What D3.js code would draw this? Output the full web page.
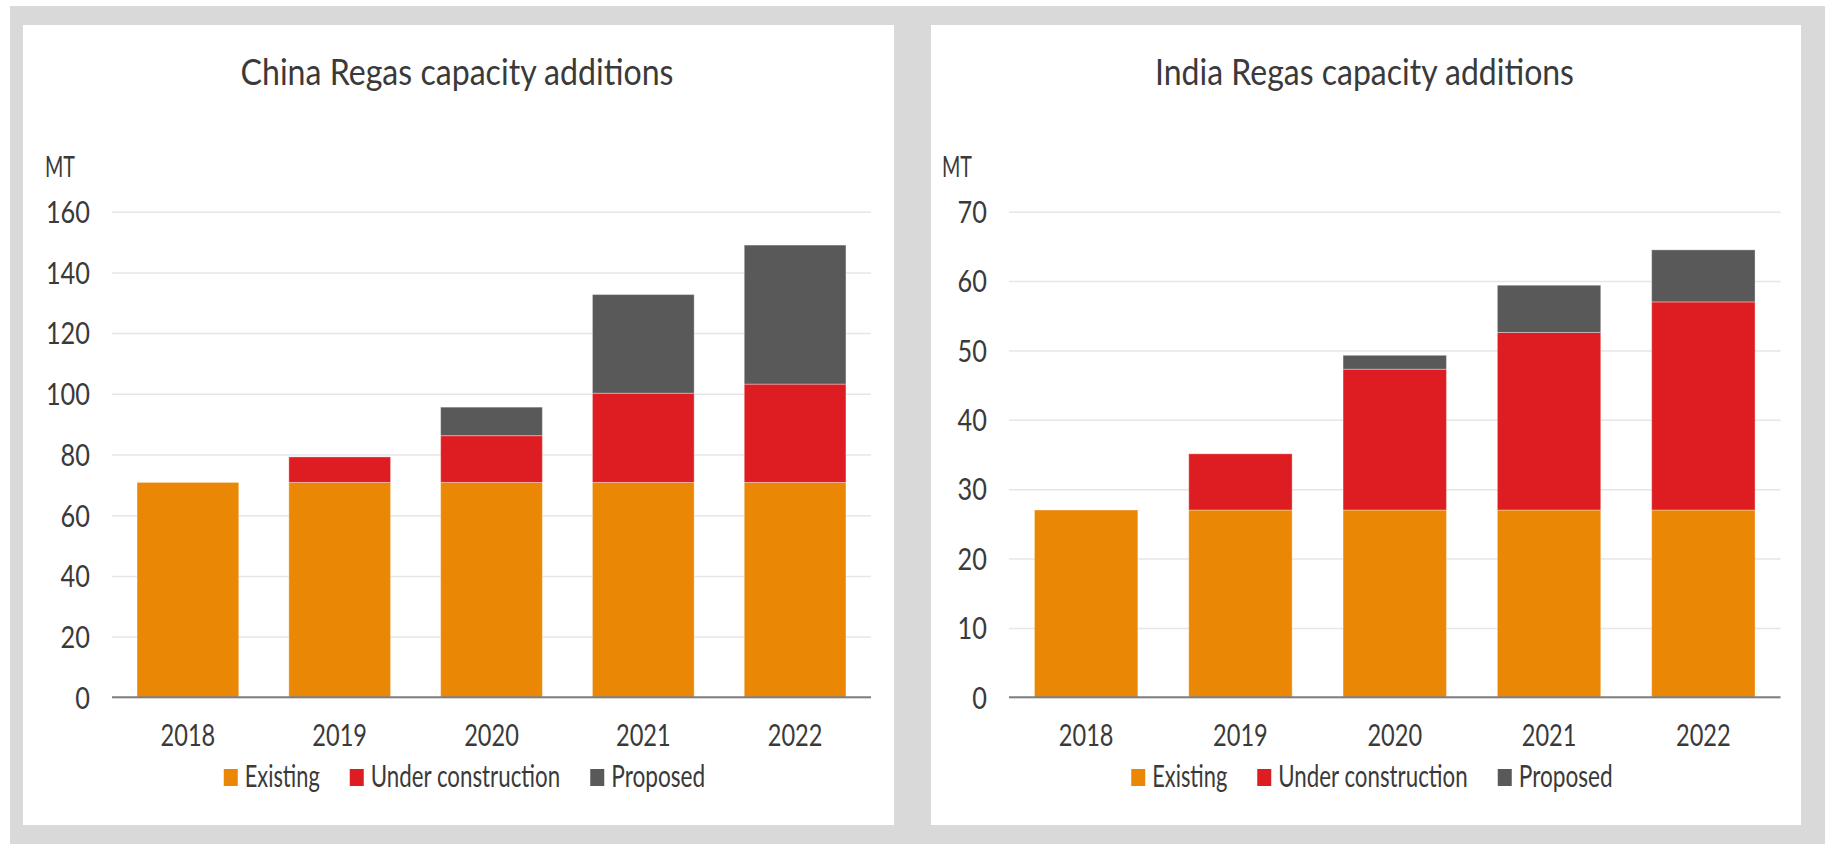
<!DOCTYPE html>
<html>
<head>
<meta charset="utf-8">
<script src="https://cdn.jsdelivr.net/npm/d3@7"></script>
<style>
  html, body { margin: 0; padding: 0; background: #ffffff; }
  svg { display: block; }
  text { font-family: Lato, "Open Sans", sans-serif; fill: #3a3a3a; }
</style>
</head>
<body>
<svg id="chart" width="1825" height="844"></svg>
<script>
// ---- data ----
const years = ["2018", "2019", "2020", "2021", "2022"];
const seriesNames = ["Existing", "Under construction", "Proposed"];

const chinaExisting = [70.8, 70.8, 70.8, 70.8, 70.8];
const chinaUnder    = [0, 8.4, 15.4, 29.4, 32.4];
const chinaProposed = [0, 0, 9.4, 32.5, 45.8];
const chinaTicks    = [0, 20, 40, 60, 80, 100, 120, 140, 160];

const indiaExisting = [27, 27, 27, 27, 27];
const indiaUnder    = [0, 8.1, 20.3, 25.6, 30.0];
const indiaProposed = [0, 0, 2.0, 6.8, 7.5];
const indiaTicks    = [0, 10, 20, 30, 40, 50, 60, 70];

const colors = ["#EA8705", "#DD1D21", "#595959"];

// Squeeze a text horizontally so it spans the given width, anchored at (x, y).
function fit(textSel, x, y, width) {
  textSel.each(function () {
    const node = this;
    node.setAttribute("x", 0);
    node.setAttribute("y", 0);
    const len = node.getComputedTextLength() || width;
    const s = width / len;
    node.setAttribute("transform", `translate(${x},${y}) scale(${s},1)`);
  });
}

// ---- layout ----
const svg = d3.select("#chart");
svg.append("rect").attr("x", 10).attr("y", 6).attr("width", 1815).attr("height", 838).attr("fill", "#D9D9D9");

const panels = [
  { title: "China Regas capacity additions", titleW: 433,
    existing: chinaExisting, under: chinaUnder, proposed: chinaProposed,
    ticks: chinaTicks, max: 160,
    px: 23, pw: 871, plotX0: 112, plotX1: 871 },
  { title: "India Regas capacity additions", titleW: 419,
    existing: indiaExisting, under: indiaUnder, proposed: indiaProposed,
    ticks: indiaTicks, max: 70,
    px: 931, pw: 870, plotX0: 1009, plotX1: 1780.5 }
];

const panelY = 25, panelH = 800;
const plotTop = 211.7, plotBottom = 697.3;
const legendWidths = [75, 189.5, 94];

panels.forEach(p => {
  const g = svg.append("g");
  g.append("rect").attr("x", p.px).attr("y", panelY).attr("width", p.pw).attr("height", panelH).attr("fill", "#ffffff");

  const cx = p.px + p.pw / 2;

  // title
  g.append("text")
    .attr("text-anchor", "middle")
    .attr("font-size", 37)
    .text(p.title)
    .call(fit, cx - 1.5, 85, p.titleW);

  const x = d3.scaleBand().domain(years).range([p.plotX0, p.plotX1])
    .paddingInner(0.33).paddingOuter(0.165);
  const y = d3.scaleLinear().domain([0, p.max]).range([plotBottom, plotTop]);

  // unit label
  g.append("text")
    .attr("font-size", 28)
    .text("MT")
    .call(fit, p.plotX0 - 67, 177, 30);

  // y axis with gridlines
  const width = p.plotX1 - p.plotX0;
  const yAxis = g.append("g")
    .attr("transform", `translate(${p.plotX0},0)`)
    .call(d3.axisLeft(y).tickValues(p.ticks).tickSizeInner(-width).tickSizeOuter(0).tickPadding(22));
  yAxis.select(".domain").remove();
  yAxis.selectAll(".tick line").attr("stroke", "#E6E6E6").attr("stroke-width", 1.5);
  yAxis.selectAll(".tick text")
    .attr("font-family", "Lato, sans-serif")
    .attr("font-size", 30)
    .attr("fill", "#3a3a3a")
    .attr("dy", "0.36em")
    .each(function (d) {
      fit(d3.select(this), -22, 0, String(d).length * 14.7);
    });

  // stacked bars
  const rows = years.map((yr, i) => ({
    year: yr,
    "Existing": p.existing[i],
    "Under construction": p.under[i],
    "Proposed": p.proposed[i]
  }));
  const stacked = d3.stack().keys(seriesNames)(rows);

  g.append("g").selectAll("g")
    .data(stacked)
    .join("g")
    .attr("fill", (d, i) => colors[i])
    .selectAll("rect")
    .data(d => d.filter(s => s[1] - s[0] > 0))
    .join("rect")
    .attr("x", d => x(d.data.year))
    .attr("y", d => y(d[1]))
    .attr("width", x.bandwidth())
    .attr("height", d => y(d[0]) - y(d[1]))
    .attr("stroke", "rgba(255,255,255,0.35)")
    .attr("stroke-width", 1);

  // baseline
  g.append("line")
    .attr("x1", p.plotX0).attr("x2", p.plotX1)
    .attr("y1", y(0)).attr("y2", y(0))
    .attr("stroke", "#7F7F7F").attr("stroke-width", 2);

  // x axis labels
  const xAxis = g.append("g")
    .attr("transform", `translate(0,${plotBottom})`)
    .call(d3.axisBottom(x).tickSize(0));
  xAxis.select(".domain").remove();
  xAxis.selectAll(".tick text")
    .attr("font-family", "Lato, sans-serif")
    .attr("font-size", 31)
    .attr("fill", "#3a3a3a")
    .attr("dy", 0)
    .each(function () {
      fit(d3.select(this), 0, 48.7, 54.7);
    });

  // legend
  const sw = 14, gapText = 7, gapItem = 30;
  const total = legendWidths.reduce((a, w) => a + sw + gapText + w, 0) + gapItem * (legendWidths.length - 1);
  let lx = cx + 6 - total / 2;
  const legend = g.append("g");
  seriesNames.forEach((name, i) => {
    legend.append("rect")
      .attr("x", lx).attr("y", 769).attr("width", sw).attr("height", 17)
      .attr("fill", colors[i]);
    legend.append("text")
      .attr("font-size", 30)
      .text(name)
      .call(fit, lx + sw + gapText, 787, legendWidths[i]);
    lx += sw + gapText + legendWidths[i] + gapItem;
  });
});
</script>
</body>
</html>
